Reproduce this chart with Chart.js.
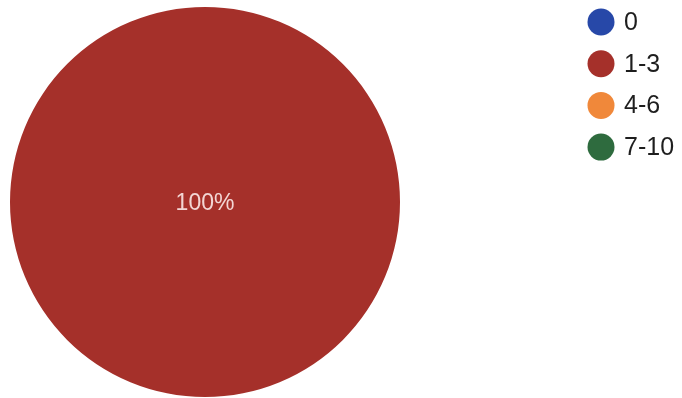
<!DOCTYPE html>
<html>
<head>
<meta charset="utf-8">
<script src="https://cdn.jsdelivr.net/npm/chart.js@4"></script>
<style>
  html, body { margin: 0; padding: 0; background: #ffffff; }
  #wrap { width: 682px; height: 398px; }
</style>
</head>
<body>
<div id="wrap"><canvas id="c" width="682" height="398"></canvas></div>
<script>
// Share of responses per bucket
const categories = ['0', '1-3', '4-6', '7-10'];
const shares = [0, 100, 0, 0];
const sliceColors = ['#2748a8', '#a5302a', '#f0883a', '#2e6b3e'];

// Percentage labels inside the slices
const sliceLabels = {
  id: 'sliceLabels',
  afterDatasetsDraw(chart) {
    const ctx = chart.ctx;
    const meta = chart.getDatasetMeta(0);
    const data = chart.data.datasets[0].data;
    const total = data.reduce((a, b) => a + b, 0);
    ctx.save();
    ctx.font = '23px "Liberation Sans", Arial, sans-serif';
    ctx.fillStyle = '#f3d6d4';
    ctx.textAlign = 'center';
    ctx.textBaseline = 'middle';
    meta.data.forEach((arc, i) => {
      if (!data[i]) return;
      const p = arc.getProps(['x', 'y', 'startAngle', 'endAngle', 'outerRadius'], true);
      let x, y;
      if (p.endAngle - p.startAngle >= Math.PI * 2 - 1e-6) {
        x = p.x; y = p.y;
      } else {
        const pos = arc.tooltipPosition(true);
        x = pos.x; y = pos.y;
      }
      ctx.fillText(Math.round(data[i] / total * 100) + '%', x, y + 2);
    });
    ctx.restore();
  }
};

// Legend drawn as a column of circles to the right of the pie
const sideLegend = {
  id: 'sideLegend',
  afterDraw(chart) {
    const ctx = chart.ctx;
    const labels = chart.data.labels;
    const colors = chart.data.datasets[0].backgroundColor;
    const cx = 601, top = 22, step = 41.7, r = 13.5;
    ctx.save();
    ctx.font = '25px "Liberation Sans", Arial, sans-serif';
    ctx.textAlign = 'left';
    ctx.textBaseline = 'middle';
    labels.forEach((lab, i) => {
      const y = top + i * step;
      ctx.beginPath();
      ctx.arc(cx, y, r, 0, Math.PI * 2);
      ctx.fillStyle = colors[i];
      ctx.fill();
      ctx.fillStyle = '#1e1e1e';
      ctx.fillText(lab, 624, y + 1);
    });
    ctx.restore();
  }
};

new Chart(document.getElementById('c'), {
  type: 'pie',
  data: {
    labels: categories,
    datasets: [{
      data: shares,
      backgroundColor: sliceColors,
      borderWidth: 0
    }]
  },
  options: {
    responsive: false,
    animation: false,
    layout: { padding: { left: 10, right: 282, top: 7, bottom: 1 } },
    plugins: {
      legend: { display: false },
      tooltip: { enabled: false }
    }
  },
  plugins: [sliceLabels, sideLegend]
});
</script>
</body>
</html>
